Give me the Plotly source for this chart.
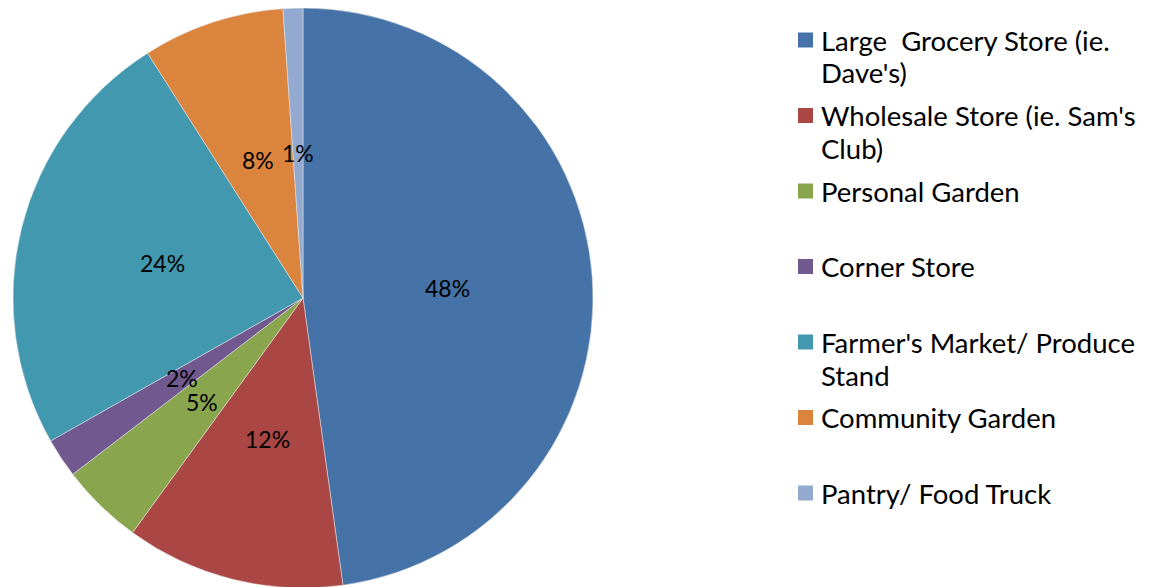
import math
import textwrap
import plotly.graph_objects as go

categories = [
    "Large  Grocery Store (ie. Dave's)",
    "Wholesale Store (ie. Sam's Club)",
    "Personal Garden",
    "Corner Store",
    "Farmer's Market/ Produce Stand",
    "Community Garden",
    "Pantry/ Food Truck",
]
values = [47.8, 12.2, 4.6, 2.2, 24.2, 7.9, 1.1]
colors = ["#4572A7", "#AA4643", "#89A54E", "#71588F", "#4198AF", "#DB843D", "#93A9CF"]

W, H = 1152, 587
FONT = "Lato, Open Sans, sans-serif"

# pie geometry (figure pixels)
PCX, PCY, PR = 295, 290, 290
dom_x = [(PCX - PR) / W, (PCX + PR) / W]
dom_y = [1 - (PCY + PR) / H, 1 - (PCY - PR) / H]

fig = go.Figure(go.Pie(
    labels=categories,
    values=values,
    sort=False,
    direction="clockwise",
    rotation=0,
    marker=dict(colors=colors, line=dict(color="#E8E8E8", width=0.5)),
    textinfo="none",
    hoverinfo="label+percent",
    showlegend=False,
    domain=dict(x=dom_x, y=dom_y),
))

# percentage labels at half radius along each slice's mid-angle
total = sum(values)
cum = 0.0
for v in values:
    mid = (cum + v / 2) / total * 2 * math.pi
    cum += v
    px = PCX + 0.5 * PR * math.sin(mid)
    py = PCY - 0.5 * PR * math.cos(mid)
    fig.add_annotation(
        x=px / W, y=1 - py / H, xref="paper", yref="paper",
        text=f"{round(v / total * 100)}%", showarrow=False,
        xanchor="center", yanchor="middle",
        font=dict(family=FONT, size=23, color="#000000"),
    )

# legend (square swatch + wrapped text)
LEG_X_SW, LEG_SW, LEG_X_TXT = 790, 15, 811
LEG_Y0, LEG_STEP, LINE_STEP = 32, 75.5, 33
for i, (name, col) in enumerate(zip(categories, colors)):
    yc = LEG_Y0 + i * LEG_STEP
    fig.add_shape(
        type="rect", xref="paper", yref="paper",
        x0=LEG_X_SW / W, x1=(LEG_X_SW + LEG_SW) / W,
        y0=1 - (yc - LEG_SW / 2) / H, y1=1 - (yc + LEG_SW / 2) / H,
        fillcolor=col, line=dict(width=0),
    )
    for j, line in enumerate(textwrap.wrap(name, 26)):
        fig.add_annotation(
            x=LEG_X_TXT / W, y=1 - (yc + j * LINE_STEP) / H,
            xref="paper", yref="paper", text=line, showarrow=False,
            xanchor="left", yanchor="middle",
            font=dict(family=FONT, size=27.5, color="#000000"),
        )

fig.update_layout(
    width=W, height=H,
    margin=dict(l=0, r=0, t=0, b=0),
    paper_bgcolor="white",
    plot_bgcolor="white",
    showlegend=False,
)

fig.write_html("out.html")
